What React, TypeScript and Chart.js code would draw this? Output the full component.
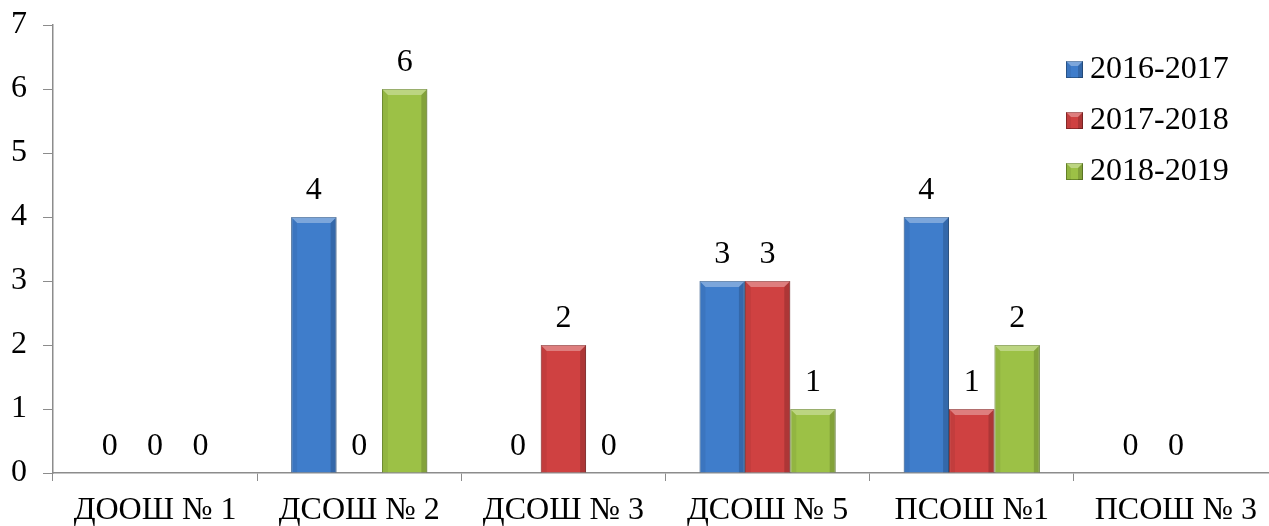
import React, { useEffect, useRef } from "react";
import { Chart, registerables } from "chart.js";

Chart.register(...registerables);

const categories = ["ДООШ № 1", "ДСОШ № 2", "ДСОШ № 3", "ДСОШ № 5", "ПСОШ №1", "ПСОШ № 3"];
const seriesLabels = ["2016-2017", "2017-2018", "2018-2019"];
const values2016 = [0, 4, 0, 3, 4, 0];
const values2017 = [0, 0, 2, 3, 1, 0];
const values2018: (number | null)[] = [0, 6, 0, 1, 2, null];
const yTicks = [0, 1, 2, 3, 4, 5, 6, 7];

const FONT = '"Liberation Serif", "Times New Roman", serif';
const fills = ["#3F7DCB", "#CF4141", "#9CC146"];
const borders = ["#2B5990", "#8E2A2A", "#6A8A2A"];

function bevel(ctx: CanvasRenderingContext2D, left: number, top: number, right: number, bottom: number, b: number) {
  const h = bottom - top;
  if (h <= 0) return;
  const bb = Math.min(b, h / 2);
  ctx.save();
  ctx.fillStyle = "rgba(255,255,255,0.32)";
  ctx.beginPath();
  ctx.moveTo(left, top);
  ctx.lineTo(right, top);
  ctx.lineTo(right - bb, top + bb);
  ctx.lineTo(left + bb, top + bb);
  ctx.closePath();
  ctx.fill();
  ctx.fillStyle = "rgba(0,0,0,0.06)";
  ctx.beginPath();
  ctx.moveTo(left, top);
  ctx.lineTo(left + bb, top + bb);
  ctx.lineTo(left + bb, bottom);
  ctx.lineTo(left, bottom);
  ctx.closePath();
  ctx.fill();
  ctx.fillStyle = "rgba(0,0,0,0.16)";
  ctx.beginPath();
  ctx.moveTo(right, top);
  ctx.lineTo(right - bb, top + bb);
  ctx.lineTo(right - bb, bottom);
  ctx.lineTo(right, bottom);
  ctx.closePath();
  ctx.fill();
  ctx.restore();
}

const barDecor = {
  id: "barDecor",
  afterDatasetsDraw(chart: any) {
    const ctx: CanvasRenderingContext2D = chart.ctx;
    chart.data.datasets.forEach((ds: any, di: number) => {
      const meta = chart.getDatasetMeta(di);
      meta.data.forEach((el: any, i: number) => {
        const raw = ds.data[i];
        if (raw === null || raw === undefined) return;
        const left = el.x - el.width / 2;
        const right = el.x + el.width / 2;
        bevel(ctx, left, el.y, right, el.base, 6);
        ctx.save();
        ctx.fillStyle = "#000";
        ctx.font = `32px ${FONT}`;
        ctx.textAlign = "center";
        ctx.textBaseline = "alphabetic";
        ctx.fillText(String(raw), el.x, el.y - 18);
        ctx.restore();
      });
    });
  },
  afterDraw(chart: any) {
    const ctx: CanvasRenderingContext2D = chart.ctx;
    const x0 = 1066;
    const ys = [69, 120, 171];
    chart.data.datasets.forEach((ds: any, di: number) => {
      const y = ys[di];
      ctx.save();
      ctx.fillStyle = fills[di];
      ctx.fillRect(x0, y - 8, 17, 17);
      ctx.strokeStyle = borders[di];
      ctx.lineWidth = 1;
      ctx.strokeRect(x0 + 0.5, y - 7.5, 16, 16);
      bevel(ctx, x0, y - 8, x0 + 17, y + 9, 5);
      ctx.fillStyle = "#000";
      ctx.font = `32px ${FONT}`;
      ctx.textAlign = "left";
      ctx.textBaseline = "middle";
      ctx.fillText(ds.label, x0 + 24, y + 1);
      ctx.restore();
    });
  },
};

export default function App() {
  const ref = useRef<HTMLCanvasElement>(null);
  useEffect(() => {
    if (!ref.current) return;
    const series = [values2016, values2017, values2018];
    const chart = new Chart(ref.current, {
      type: "bar",
      data: {
        labels: categories,
        datasets: series.map((d, i) => ({
          label: seriesLabels[i],
          data: d,
          backgroundColor: fills[i],
          borderColor: borders[i],
          borderWidth: 1,
          barPercentage: 1,
          categoryPercentage: 0.667,
          skipNull: false,
        })),
      },
      options: {
        responsive: false,
        animation: false,
        events: [],
        layout: { padding: { top: 25, right: 0, left: 0, bottom: 0 } },
        plugins: { legend: { display: false }, tooltip: { enabled: false } },
        scales: {
          x: {
            grid: {
              drawOnChartArea: false,
              drawTicks: true,
              tickLength: 8,
              color: "#8C8C8C",
              offset: true,
            },
            border: { color: "#8C8C8C", width: 1.5 },
            ticks: { color: "#000", font: { family: FONT, size: 32 }, padding: 10, maxRotation: 0, autoSkip: false },
            afterFit(scale: any) {
              scale.height = 53;
              scale.paddingLeft = 0;
              scale.paddingRight = 0;
            },
          },
          y: {
            min: 0,
            max: 7,
            afterBuildTicks(scale: any) {
              scale.ticks = yTicks.map((v) => ({ value: v }));
            },
            grid: { drawOnChartArea: false, drawTicks: true, tickLength: 10, color: "#8C8C8C" },
            border: { color: "#8C8C8C", width: 1.5 },
            ticks: { color: "#000", font: { family: FONT, size: 32 }, padding: 16 },
            afterFit(scale: any) {
              scale.width = 53;
              scale.paddingTop = 0;
              scale.paddingBottom = 0;
            },
          },
        },
      },
      plugins: [barDecor],
    });
    return () => chart.destroy();
  }, []);
  return (
    <div style={{ position: "absolute", left: 0, top: 0, width: 1269, height: 526, overflow: "hidden", background: "#fff" }}>
      <canvas ref={ref} width={1278} height={526} style={{ display: "block" }} />
    </div>
  );
}
